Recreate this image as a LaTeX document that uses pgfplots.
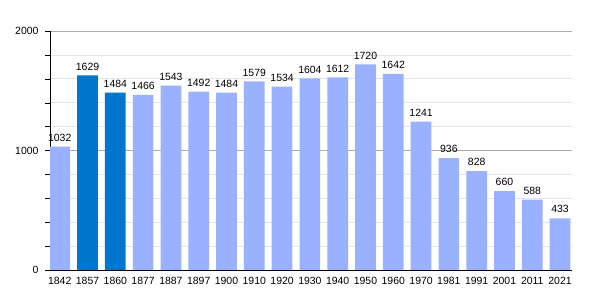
\documentclass[border=0pt]{standalone}
\usepackage{pgfplots}
\pgfplotsset{compat=1.18}
\usepackage{fontspec}
\setmainfont{Liberation Sans}
\definecolor{lightbar}{HTML}{99B1FF}
\definecolor{darkbar}{HTML}{0077CC}
\begin{document}
\begin{tikzpicture}
\path[use as bounding box] (0,0) rectangle (600bp,300bp);
\begin{axis}[
  at={(50bp,30bp)}, anchor=south west,
  scale only axis, width=522bp, height=239bp,
  xmin=-0.35, xmax=18.43, ymin=0, ymax=2000,
  axis x line=bottom, axis y line=left,
  axis line style={-, black},
  x axis line style={shorten <=-5bp},
  xtick={0,...,18},
  xticklabels={1842,1857,1860,1877,1887,1897,1900,1910,1920,1930,1940,1950,1960,1970,1981,1991,2001,2011,2021},
  x tick style={draw=none},
  ytick={0,1000,2000},
  minor ytick={200,400,600,800,1200,1400,1600,1800},
  y tick style={black}, tickwidth=5bp, subtickwidth=5bp,
  tick align=outside,
  ymajorgrids, yminorgrids,
  major grid style={color=black!33, line width=0.6pt},
  minor grid style={color=black!10, line width=0.6pt},
  tick label style={font=\fontsize{10.5}{12}\selectfont},
  /pgf/number format/assume math mode=true,
  /pgf/number format/1000 sep={},
  xticklabel style={yshift=1bp},
  yticklabel style={xshift=-3bp},
  ybar, bar width=20.7bp, bar shift=0pt,
  nodes near coords,
  every node near coord/.append style={font=\fontsize{10.5}{12}\selectfont, black, inner sep=2bp, yshift=3bp},
]
\addplot[fill=lightbar, draw=none] coordinates {
(0,1032) (3,1466) (4,1543) (5,1492) (6,1484) (7,1579) (8,1534) (9,1604) (10,1612) (11,1720) (12,1642) (13,1241) (14,936) (15,828) (16,660) (17,588) (18,433)};
\addplot[fill=darkbar, draw=none] coordinates {(1,1629) (2,1484)};
\end{axis}
\end{tikzpicture}
\end{document}
